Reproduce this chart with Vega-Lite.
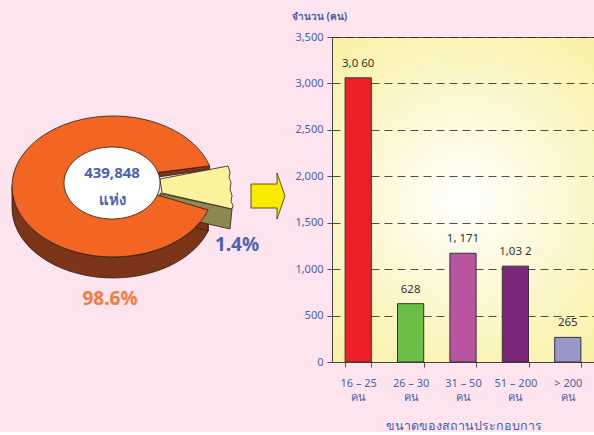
{
  "$schema": "https://vega.github.io/schema/vega-lite/v6.json",
  "background": "#fde4ef",
  "padding": {"left": 0, "top": 10, "right": 0, "bottom": 0},
  "spacing": 0,
  "config": {
    "font": "Noto Sans",
    "view": {"stroke": null}
  },
  "resolve": {"scale": {"fill": "independent", "shape": "independent", "color": "independent"}},
  "datasets": {
    "pie": [
      {"part": "สถานประกอบการ 1-15 คน", "pct": 98.6, "label": "98.6%"},
      {"part": "สถานประกอบการ 16 คนขึ้นไป", "pct": 1.4, "label": "1.4%"}
    ],
    "total": [
      {"total": "439,848", "unit": "แห่ง"}
    ],
    "bars": [
      {"size": "16 – 25", "workers": 3060, "label": "3,0 60"},
      {"size": "26 – 30", "workers": 628, "label": "628"},
      {"size": "31 – 50", "workers": 1171, "label": "1, 171"},
      {"size": "51 – 200", "workers": 1032, "label": "1,03 2"},
      {"size": "> 200", "workers": 265, "label": "265"}
    ]
  },
  "hconcat": [
    {
      "width": 290,
      "height": 325,
      "view": {"stroke": null},
      "resolve": {"scale": {"fill": "independent", "shape": "independent"}},
      "layer": [
        {
          "data": {"name": "pie"},
          "mark": {"type": "point", "filled": true, "opacity": 1, "size": 4, "stroke": "#2b1a10", "strokeWidth": 0.8},
          "encoding": {
            "shape": {"field": "part", "type": "nominal", "legend": null,
              "scale": {"domain": ["สถานประกอบการ 1-15 คน", "สถานประกอบการ 16 คนขึ้นไป"],
                "range": [
                  "M -133 -13 A 101 70.5 0 0 0 63.2 10.5 L 63.2 31.5 A 101 70.5 0 0 1 -133 8 Z M 12.2 -4.5 L 63.2 10.5 L 63.2 31.5 L 12.2 16.5 Z M 12.9 -27 L 64.6 -33.6 L 64.6 -30 L 12.9 -22.5 Z",
                  "M 15 -6 L 87 9.5 L 85 29.5 L 15 13.5 Z"
                ]}},
            "fill": {"field": "part", "type": "nominal", "legend": null,
              "scale": {"domain": ["สถานประกอบการ 1-15 คน", "สถานประกอบการ 16 คนขึ้นไป"], "range": ["#7d3519", "#8c8a52"]}}
          }
        },
        {
          "data": {"name": "pie"},
          "mark": {"type": "point", "filled": true, "opacity": 1, "size": 4, "stroke": "#2b1a10", "strokeWidth": 0.8},
          "encoding": {
            "shape": {"field": "part", "type": "nominal", "legend": null,
              "scale": {"domain": ["สถานประกอบการ 1-15 คน", "สถานประกอบการ 16 คนขึ้นไป"],
                "range": [
                  "M 64.6 -33.6 A 101 70.5 0 1 0 63.2 10.5 L 12.2 -4.5 L 12.9 -27 Z",
                  "M 15 -20.5 L 83 -33.5 L 85 -27 L 84 -22 L 86 -17 L 85 -10 L 87 -4 L 86 2 L 88 6 L 87 9.5 L 17 -6.5 Z"
                ]}},
            "fill": {"field": "part", "type": "nominal", "legend": null,
              "scale": {"domain": ["สถานประกอบการ 1-15 คน", "สถานประกอบการ 16 คนขึ้นไป"], "range": ["#f26522", "#faf39c"]}}
          }
        },
        {
          "data": {"name": "total"},
          "mark": {"type": "point", "filled": true, "opacity": 1, "size": 4, "fill": "#ffffff", "stroke": "#2b1a10", "strokeWidth": 0.8,
            "shape": "M -81 -16.5 A 48 36 0 1 0 15 -16.5 A 48 36 0 1 0 -81 -16.5 Z"},
          "encoding": {}
        },
        {
          "data": {"name": "total"},
          "mark": {"type": "point", "filled": true, "opacity": 1, "size": 4, "fill": "#f7ea00", "stroke": "#3a3000", "strokeWidth": 0.8,
            "shape": "M 106 -15.5 L 132 -15.5 L 132 -26.5 L 140 -3.5 L 132 19.5 L 132 8.5 L 106 8.5 Z"},
          "encoding": {}
        },
        {
          "data": {"name": "total"},
          "mark": {"type": "text", "dx": -33, "dy": -26.5, "fontSize": 15, "fontWeight": "bold", "color": "#4b62b1"},
          "encoding": {"text": {"field": "total"}}
        },
        {
          "data": {"name": "total"},
          "mark": {"type": "text", "dx": -33, "dy": 0.5, "fontSize": 15, "fontWeight": "bold", "color": "#4b62b1"},
          "encoding": {"text": {"field": "unit"}}
        },
        {
          "data": {"name": "pie"},
          "transform": [{"filter": "datum.pct < 50"}],
          "mark": {"type": "text", "dx": 92, "dy": 45.5, "fontSize": 19, "fontWeight": "bold", "color": "#4b62b1"},
          "encoding": {"text": {"field": "label"}}
        },
        {
          "data": {"name": "pie"},
          "transform": [{"filter": "datum.pct > 50"}],
          "mark": {"type": "text", "dx": -35, "dy": 99.5, "fontSize": 19, "fontWeight": "bold", "color": "#f47a3a"},
          "encoding": {"text": {"field": "label"}}
        }
      ]
    },
    {
      "width": 262,
      "height": 325,
      "data": {"name": "bars"},
      "view": {
        "stroke": "#555555",
        "strokeWidth": 1,
        "fill": {"gradient": "radial", "x1": 0.5, "y1": 0.5, "r1": 0, "x2": 0.5, "y2": 0.5, "r2": 0.75,
          "stops": [{"offset": 0, "color": "#ffffff"}, {"offset": 0.5, "color": "#fbf6c8"}, {"offset": 1, "color": "#f7ef94"}]}
      },
      "layer": [
        {
          "mark": {"type": "bar", "stroke": "#333333", "strokeWidth": 1},
          "encoding": {
            "x": {"field": "size", "type": "nominal", "sort": null,
              "scale": {"paddingInner": 0.5, "paddingOuter": 0.25},
              "axis": {
                "title": "ขนาดของสถานประกอบการ",
                "titleColor": "#4b5fae", "titleFontSize": 12.5, "titleFontWeight": "normal", "titlePadding": 17,
                "labelAngle": 0, "labelColor": "#4b5fae", "labelFontSize": 11, "labelPadding": 10, "labelLineHeight": 14,
                "labelExpr": "indexof(['16 – 25', '26 – 30', '31 – 50', '51 – 200', '> 200'], datum.label) >= 0 ? [datum.label, 'คน'] : ''",
                "tickBand": "extent", "tickColor": "#555555", "tickSize": 5,
                "domainColor": "#444444", "grid": false
              }
            },
            "y": {"field": "workers", "type": "quantitative",
              "scale": {"domain": [0, 3500]},
              "axis": {
                "values": [0, 500, 1000, 1500, 2000, 2500, 3000, 3500],
                "format": ",d",
                "title": "จำนวน (คน)", "titleAngle": 0, "titleAlign": "center", "titleBaseline": "middle",
                "titleX": -13, "titleY": -21, "titleColor": "#4b5fae", "titleFontSize": 10, "titleFontWeight": "bold",
                "labelColor": "#4b5fae", "labelFontSize": 11, "labelPadding": 4,
                "tickColor": "#555555", "tickSize": 5, "domainColor": "#444444",
                "grid": true, "gridColor": "#222222", "gridDash": [8, 5], "gridWidth": 0.8
              }
            },
            "fill": {"field": "size", "type": "nominal", "sort": null, "legend": null,
              "scale": {"range": ["#ee2027", "#6abd45", "#b955a0", "#7b2679", "#9898cb"]}}
          }
        },
        {
          "mark": {"type": "text", "dy": -9, "fontSize": 11.5, "color": "#333333", "baseline": "bottom"},
          "encoding": {
            "x": {"field": "size", "type": "nominal", "sort": null},
            "y": {"field": "workers", "type": "quantitative"},
            "text": {"field": "label"}
          }
        }
      ]
    }
  ]
}
